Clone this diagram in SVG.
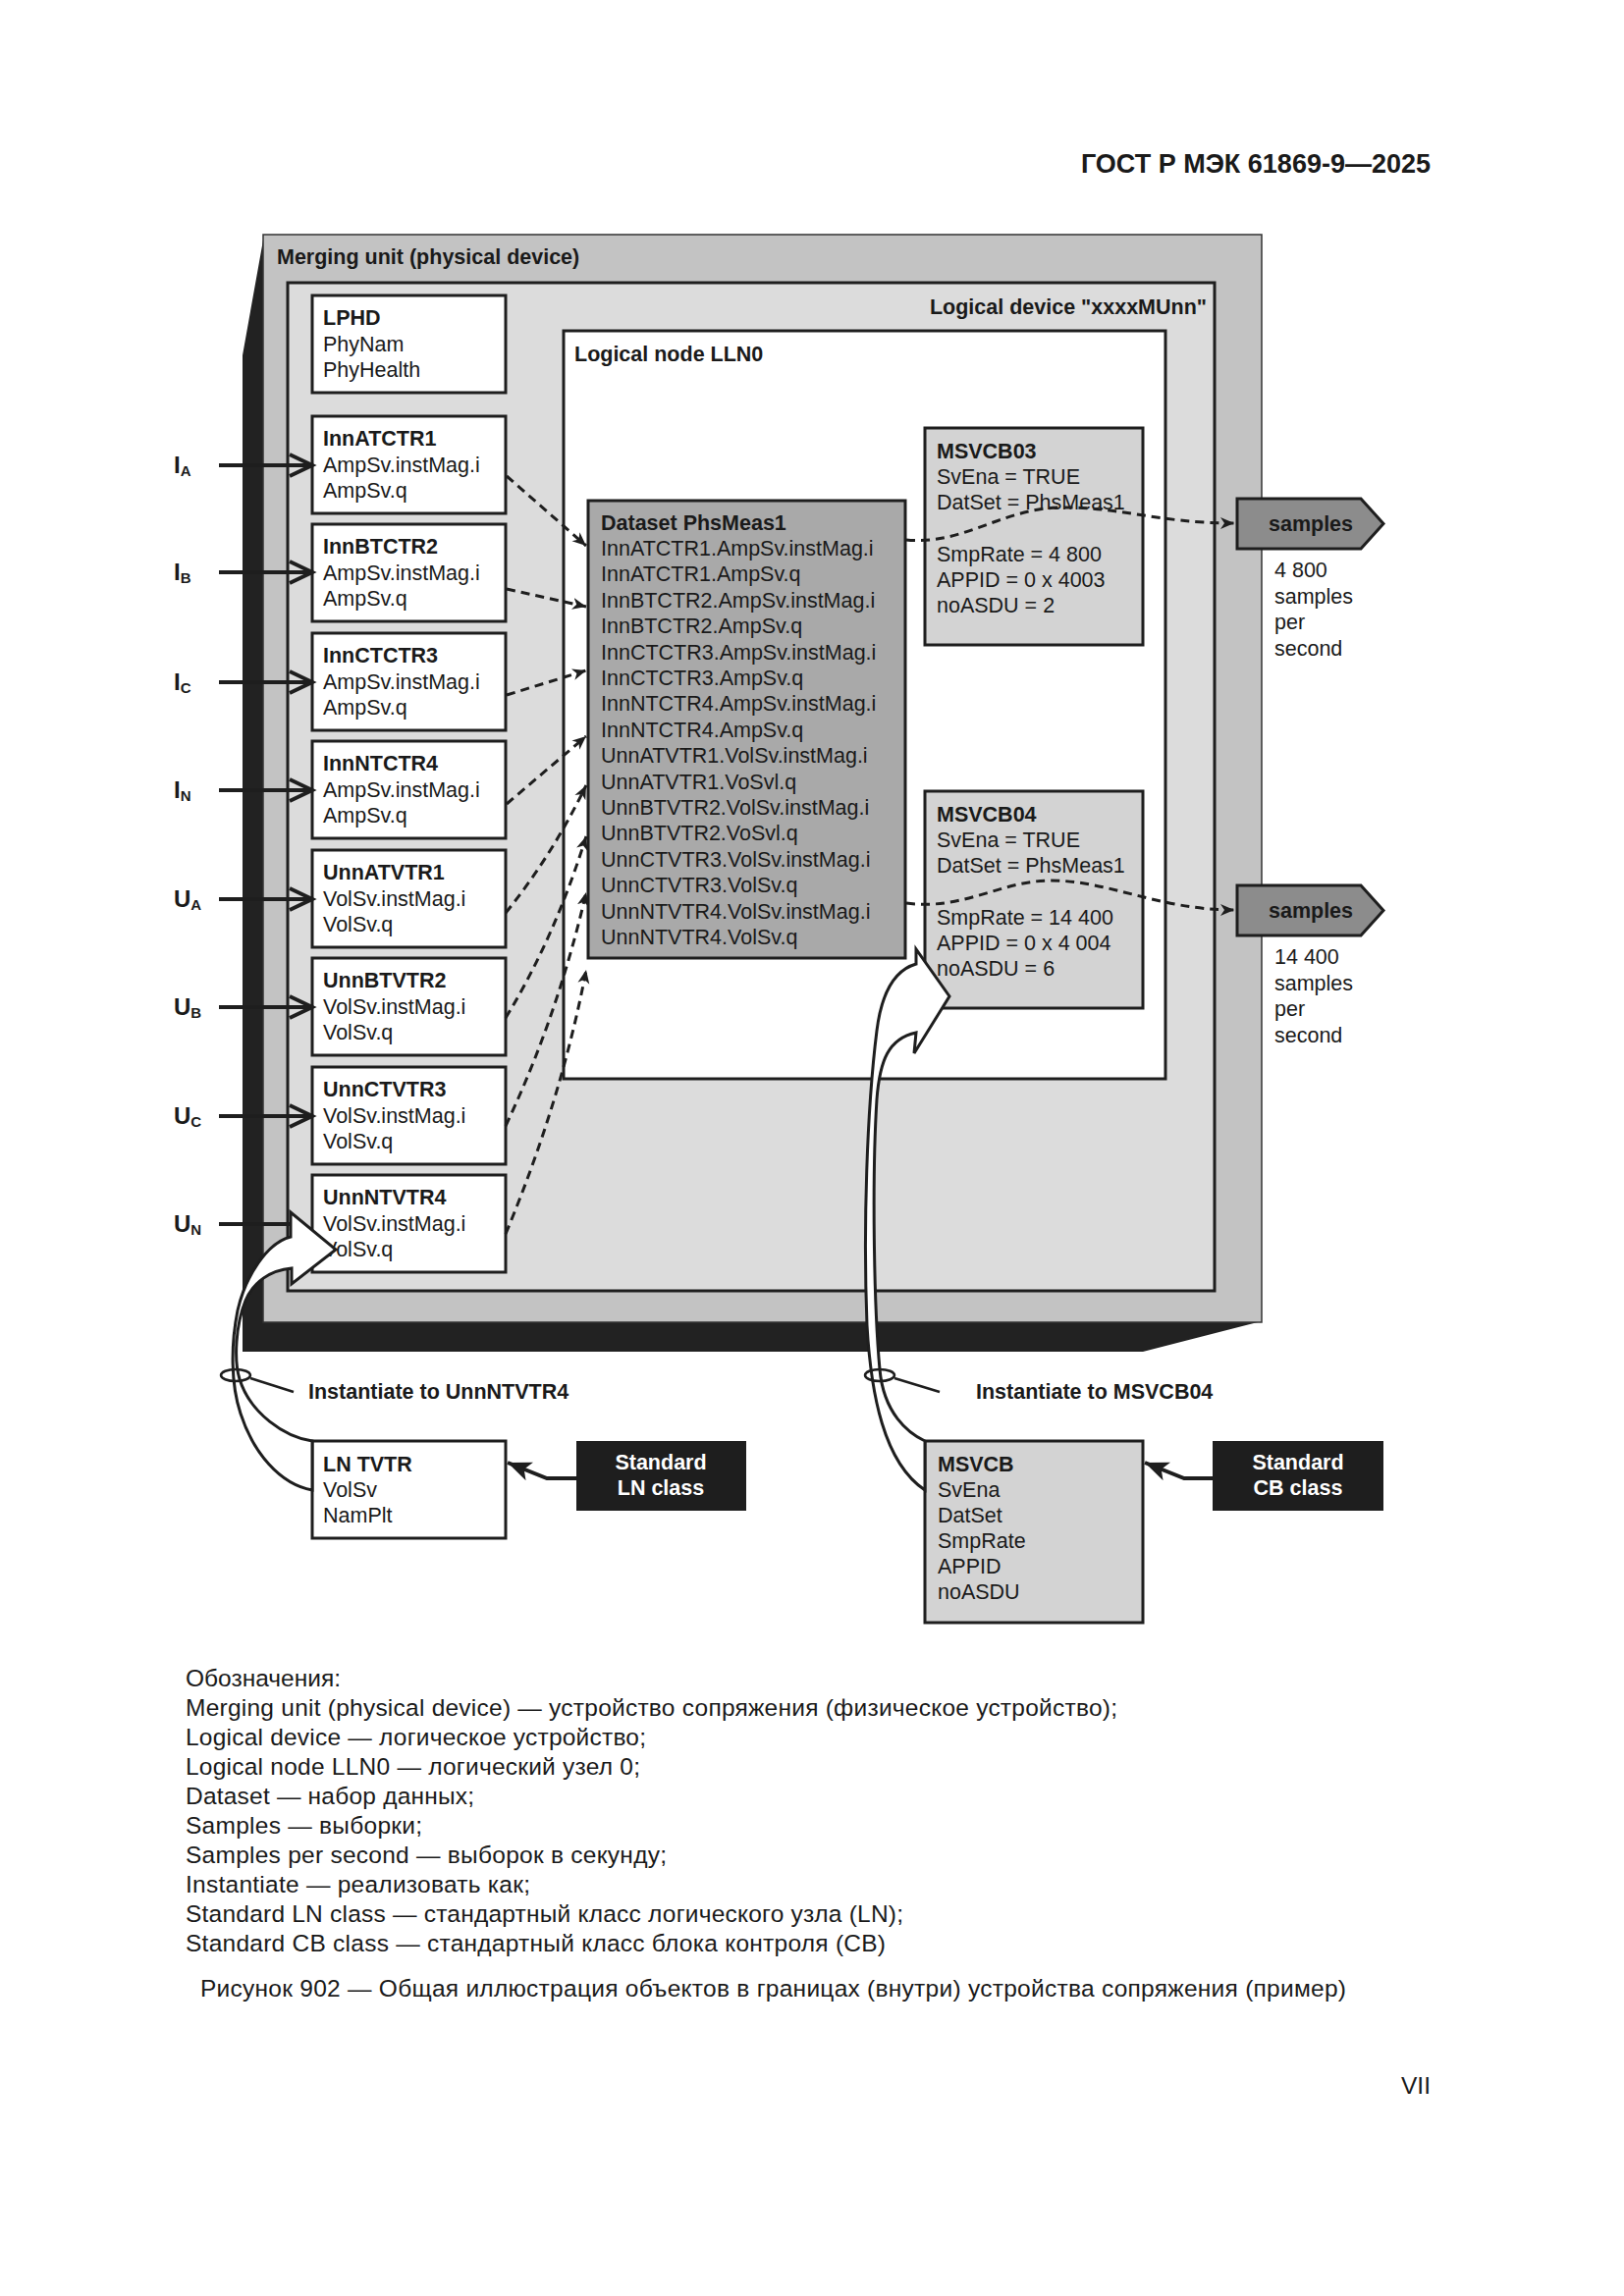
<svg xmlns="http://www.w3.org/2000/svg" width="1654" height="2339" viewBox="0 0 1654 2339">
<style>
.t{font-family:"Liberation Sans",Arial,sans-serif;font-size:21.5px;fill:#1a1a1a}
.b{font-weight:bold}
.w{fill:#ffffff}
.box{fill:#ffffff;stroke:#1e1e1e;stroke-width:3}
.gbox{fill:#d3d3d3;stroke:#1e1e1e;stroke-width:3}
.dash{fill:none;stroke:#1e1e1e;stroke-width:3;stroke-dasharray:9 6;marker-end:url(#ah)}
.inp{fill:none;stroke:#1e1e1e;stroke-width:4}
.lbl{font-family:"Liberation Sans",Arial,sans-serif;font-size:24px;font-weight:bold;fill:#1a1a1a}
.sub{font-size:15px}
.leg{font-family:"Liberation Sans",Arial,sans-serif;font-size:24.5px;fill:#1a1a1a}
.thin{fill:none;stroke:#1e1e1e;stroke-width:2.5}
.warrow{fill:#ffffff;stroke:#1e1e1e;stroke-width:3;stroke-linejoin:miter}
</style>
<defs>
<marker id="ah" markerUnits="userSpaceOnUse" markerWidth="16" markerHeight="14" refX="14" refY="7" orient="auto">
<path d="M0,1 L14,7 L0,13 L4,7 Z" fill="#1e1e1e"/>
</marker>
<marker id="ahb" markerUnits="userSpaceOnUse" markerWidth="26" markerHeight="22" refX="24" refY="11" orient="auto">
<path d="M0,1 L24,11 L0,21 L6,11 Z" fill="#1e1e1e"/>
</marker>
</defs>
<rect x="0" y="0" width="1654" height="2339" fill="#ffffff"/>

<text class="t b" x="1457" y="176" text-anchor="end" style="font-size:27px">ГОСТ Р МЭК 61869-9—2025</text>

<g id="merging-unit">
<polygon points="269,239 247,362 247,1377 1164,1377 1285,1346 269,1346" fill="#222222"/>
<rect x="268" y="239" width="1017" height="1108" fill="#c3c3c3" stroke="#333333" stroke-width="1.5"/>
<text class="t b" x="282" y="269">Merging unit (physical device)</text>
</g>

<g id="logical-device">
<rect x="293" y="288" width="944" height="1027" fill="#dcdcdc" stroke="#1e1e1e" stroke-width="3"/>
<text class="t b" x="1229" y="320" text-anchor="end">Logical device "xxxxMUnn"</text>
</g>

<g id="lln0">
<rect x="574" y="337" width="613" height="762" class="box"/>
<text class="t b" x="585" y="368">Logical node LLN0</text>
</g>

<g id="lphd">
<rect x="318" y="301" width="197" height="99" class="box"/>
<text class="t" x="329" y="331"><tspan class="b">LPHD</tspan><tspan x="329" dy="26.5">PhyNam</tspan><tspan x="329" dy="26.5">PhyHealth</tspan></text>
</g>

<g id="InnATCTR1">
<rect x="318" y="424" width="197" height="99" class="box"/>
<text class="t" x="329" y="454"><tspan class="b">InnATCTR1</tspan><tspan x="329" dy="26.5">AmpSv.instMag.i</tspan><tspan x="329" dy="26.5">AmpSv.q</tspan></text>
</g>
<g id="InnBTCTR2">
<rect x="318" y="534" width="197" height="99" class="box"/>
<text class="t" x="329" y="564"><tspan class="b">InnBTCTR2</tspan><tspan x="329" dy="26.5">AmpSv.instMag.i</tspan><tspan x="329" dy="26.5">AmpSv.q</tspan></text>
</g>
<g id="InnCTCTR3">
<rect x="318" y="645" width="197" height="99" class="box"/>
<text class="t" x="329" y="675"><tspan class="b">InnCTCTR3</tspan><tspan x="329" dy="26.5">AmpSv.instMag.i</tspan><tspan x="329" dy="26.5">AmpSv.q</tspan></text>
</g>
<g id="InnNTCTR4">
<rect x="318" y="755" width="197" height="99" class="box"/>
<text class="t" x="329" y="785"><tspan class="b">InnNTCTR4</tspan><tspan x="329" dy="26.5">AmpSv.instMag.i</tspan><tspan x="329" dy="26.5">AmpSv.q</tspan></text>
</g>
<g id="UnnATVTR1">
<rect x="318" y="866" width="197" height="99" class="box"/>
<text class="t" x="329" y="896"><tspan class="b">UnnATVTR1</tspan><tspan x="329" dy="26.5">VolSv.instMag.i</tspan><tspan x="329" dy="26.5">VolSv.q</tspan></text>
</g>
<g id="UnnBTVTR2">
<rect x="318" y="976" width="197" height="99" class="box"/>
<text class="t" x="329" y="1006"><tspan class="b">UnnBTVTR2</tspan><tspan x="329" dy="26.5">VolSv.instMag.i</tspan><tspan x="329" dy="26.5">VolSv.q</tspan></text>
</g>
<g id="UnnCTVTR3">
<rect x="318" y="1087" width="197" height="99" class="box"/>
<text class="t" x="329" y="1117"><tspan class="b">UnnCTVTR3</tspan><tspan x="329" dy="26.5">VolSv.instMag.i</tspan><tspan x="329" dy="26.5">VolSv.q</tspan></text>
</g>
<g id="UnnNTVTR4">
<rect x="318" y="1197" width="197" height="99" class="box"/>
<text class="t" x="329" y="1227"><tspan class="b">UnnNTVTR4</tspan><tspan x="329" dy="26.5">VolSv.instMag.i</tspan><tspan x="329" dy="26.5">VolSv.q</tspan></text>
</g>

<g id="dataset">
<rect x="599" y="510" width="323" height="466" fill="#a9a9a9" stroke="#1e1e1e" stroke-width="3"/>
<text class="t" x="612" y="540"><tspan class="b">Dataset PhsMeas1</tspan><tspan x="612" dy="26">InnATCTR1.AmpSv.instMag.i</tspan><tspan x="612" dy="26.4">InnATCTR1.AmpSv.q</tspan><tspan x="612" dy="26.4">InnBTCTR2.AmpSv.instMag.i</tspan><tspan x="612" dy="26.4">InnBTCTR2.AmpSv.q</tspan><tspan x="612" dy="26.4">InnCTCTR3.AmpSv.instMag.i</tspan><tspan x="612" dy="26.4">InnCTCTR3.AmpSv.q</tspan><tspan x="612" dy="26.4">InnNTCTR4.AmpSv.instMag.i</tspan><tspan x="612" dy="26.4">InnNTCTR4.AmpSv.q</tspan><tspan x="612" dy="26.4">UnnATVTR1.VolSv.instMag.i</tspan><tspan x="612" dy="26.4">UnnATVTR1.VoSvl.q</tspan><tspan x="612" dy="26.4">UnnBTVTR2.VolSv.instMag.i</tspan><tspan x="612" dy="26.4">UnnBTVTR2.VoSvl.q</tspan><tspan x="612" dy="26.4">UnnCTVTR3.VolSv.instMag.i</tspan><tspan x="612" dy="26.4">UnnCTVTR3.VolSv.q</tspan><tspan x="612" dy="26.4">UnnNTVTR4.VolSv.instMag.i</tspan><tspan x="612" dy="26.4">UnnNTVTR4.VolSv.q</tspan></text>
</g>

<g id="MSVCB03">
<rect x="942" y="436" width="222" height="221" class="gbox"/>
<text class="t" x="954" y="467"><tspan class="b">MSVCB03</tspan><tspan x="954" dy="26">SvEna = TRUE</tspan><tspan x="954" dy="26">DatSet = PhsMeas1</tspan><tspan x="954" dy="53">SmpRate = 4 800</tspan><tspan x="954" dy="26">APPID = 0 x 4003</tspan><tspan x="954" dy="26">noASDU = 2</tspan></text>
</g>

<g id="MSVCB04">
<rect x="942" y="806" width="222" height="221" class="gbox"/>
<text class="t" x="954" y="837"><tspan class="b">MSVCB04</tspan><tspan x="954" dy="26">SvEna = TRUE</tspan><tspan x="954" dy="26">DatSet = PhsMeas1</tspan><tspan x="954" dy="53">SmpRate = 14 400</tspan><tspan x="954" dy="26">APPID = 0 x 4 004</tspan><tspan x="954" dy="26">noASDU = 6</tspan></text>
</g>

<g id="samples1">
<polygon points="1260,508 1386,508 1409,533.5 1386,559 1260,559" fill="#8c8c8c" stroke="#1e1e1e" stroke-width="3"/>
<text class="t b" x="1335" y="541" text-anchor="middle">samples</text>
<text class="t" x="1298" y="588"><tspan>4 800</tspan><tspan x="1298" dy="26.5">samples</tspan><tspan x="1298" dy="26.5">per</tspan><tspan x="1298" dy="26.5">second</tspan></text>
</g>

<g id="samples2">
<polygon points="1260,902 1386,902 1409,927.5 1386,953 1260,953" fill="#8c8c8c" stroke="#1e1e1e" stroke-width="3"/>
<text class="t b" x="1335" y="935" text-anchor="middle">samples</text>
<text class="t" x="1298" y="982"><tspan>14 400</tspan><tspan x="1298" dy="26.5">samples</tspan><tspan x="1298" dy="26.5">per</tspan><tspan x="1298" dy="26.5">second</tspan></text>
</g>

<g id="LN-TVTR">
<rect x="318" y="1468" width="197" height="99" class="box"/>
<text class="t" x="329" y="1499"><tspan class="b">LN TVTR</tspan><tspan x="329" dy="26">VolSv</tspan><tspan x="329" dy="26">NamPlt</tspan></text>
</g>

<g id="MSVCB">
<rect x="942" y="1468" width="222" height="185" class="gbox"/>
<text class="t" x="955" y="1499"><tspan class="b">MSVCB</tspan><tspan x="955" dy="26">SvEna</tspan><tspan x="955" dy="26">DatSet</tspan><tspan x="955" dy="26">SmpRate</tspan><tspan x="955" dy="26">APPID</tspan><tspan x="955" dy="25.5">noASDU</tspan></text>
</g>

<g id="standard-ln-class">
<rect x="587" y="1468" width="173" height="71" fill="#1e1e1e"/>
<text class="t b w" x="673" y="1497" text-anchor="middle"><tspan>Standard</tspan><tspan x="673" dy="26">LN class</tspan></text>
</g>

<g id="standard-cb-class">
<rect x="1235" y="1468" width="174" height="71" fill="#1e1e1e"/>
<text class="t b w" x="1322" y="1497" text-anchor="middle"><tspan>Standard</tspan><tspan x="1322" dy="26">CB class</tspan></text>
</g>

<g id="input-labels">
<text class="lbl" x="177" y="482">I<tspan class="sub" dy="3">A</tspan></text>
<text class="lbl" x="177" y="591">I<tspan class="sub" dy="3">B</tspan></text>
<text class="lbl" x="177" y="703">I<tspan class="sub" dy="3">C</tspan></text>
<text class="lbl" x="177" y="813">I<tspan class="sub" dy="3">N</tspan></text>
<text class="lbl" x="177" y="924">U<tspan class="sub" dy="3">A</tspan></text>
<text class="lbl" x="177" y="1034">U<tspan class="sub" dy="3">B</tspan></text>
<text class="lbl" x="177" y="1145">U<tspan class="sub" dy="3">C</tspan></text>
<text class="lbl" x="177" y="1255">U<tspan class="sub" dy="3">N</tspan></text>
</g>

<g id="connectors">
<path class="inp" d="M223,474 H316 M295,463 L318,474 L295,485"/>
<path class="inp" d="M223,583 H316 M295,572 L318,583 L295,594"/>
<path class="inp" d="M223,695 H316 M295,684 L318,695 L295,706"/>
<path class="inp" d="M223,805 H316 M295,794 L318,805 L295,816"/>
<path class="inp" d="M223,916 H316 M295,905 L318,916 L295,927"/>
<path class="inp" d="M223,1026 H316 M295,1015 L318,1026 L295,1037"/>
<path class="inp" d="M223,1137 H316 M295,1126 L318,1137 L295,1148"/>
<path class="inp" d="M223,1247 H296"/>

<path class="dash" d="M516,485 L597,556"/>
<path class="dash" d="M516,600 L597,618"/>
<path class="dash" d="M516,708 L597,683"/>
<path class="dash" d="M516,819 L597,750"/>
<path class="dash" d="M515,930 Q562,872 597,800"/>
<path class="dash" d="M515,1037 Q565,955 597,852"/>
<path class="dash" d="M515,1147 Q568,1035 597,909"/>
<path class="dash" d="M515,1257 Q572,1120 597,988"/>

<path class="dash" d="M923,550 C980,556 1020,518 1080,517 C1140,516 1180,533 1257,533"/>
<path class="dash" d="M923,920 C980,928 1020,897 1070,897 C1130,897 1180,927 1257,927"/>

<path fill="none" stroke="#1e1e1e" stroke-width="4" marker-end="url(#ahb)" d="M587,1506 H557 L517,1490"/>
<path fill="none" stroke="#1e1e1e" stroke-width="4" marker-end="url(#ahb)" d="M1235,1506 H1206 L1166,1490"/>

<path class="warrow" d="M318,1468 C290,1464 255,1440 244,1405 C238,1385 240,1350 250,1325 C258,1306 275,1294 297,1292 L297,1308 L342,1273 L296,1235 L296,1260 C272,1266 250,1300 242,1335 C235,1370 235,1410 245,1440 C258,1480 285,1512 318,1518 Z"/>
<path class="warrow" d="M942,1468 C925,1460 900,1440 896,1395 C890,1330 888,1200 893,1120 C896,1080 905,1058 933,1052 L931,1073 L967,1015 L933,967 L933,982 C912,988 898,1010 893,1050 C883,1130 879,1250 883,1350 C887,1420 900,1490 942,1518 Z"/>

<ellipse class="thin" cx="240" cy="1401" rx="15" ry="6"/>
<path class="thin" d="M255,1404 L299,1418"/>
<ellipse class="thin" cx="896" cy="1401" rx="15" ry="6"/>
<path class="thin" d="M911,1404 L957,1418"/>
</g>

<text class="t b" x="314" y="1425">Instantiate to UnnNTVTR4</text>
<text class="t b" x="994" y="1425">Instantiate to MSVCB04</text>

<g id="legend">
<text class="leg" x="189" y="1718">Обозначения:</text>
<text class="leg" x="189" y="1748" textLength="949">Merging unit (physical device) — устройство сопряжения (физическое устройство);</text>
<text class="leg" x="189" y="1778" textLength="469">Logical device — логическое устройство;</text>
<text class="leg" x="189" y="1808" textLength="463">Logical node LLN0 — логический узел 0;</text>
<text class="leg" x="189" y="1838" textLength="294">Dataset — набор данных;</text>
<text class="leg" x="189" y="1868" textLength="241">Samples — выборки;</text>
<text class="leg" x="189" y="1898" textLength="490">Samples per second — выборок в секунду;</text>
<text class="leg" x="189" y="1928" textLength="351">Instantiate — реализовать как;</text>
<text class="leg" x="189" y="1958" textLength="731">Standard LN class — стандартный класс логического узла (LN);</text>
<text class="leg" x="189" y="1988" textLength="713">Standard CB class — стандартный класс блока контроля (CB)</text>
<text class="leg" x="204" y="2034" textLength="1167">Рисунок 902 — Общая иллюстрация объектов в границах (внутри) устройства сопряжения (пример)</text>
<text class="leg" x="1457" y="2133" text-anchor="end">VII</text>
</g>
</svg>
